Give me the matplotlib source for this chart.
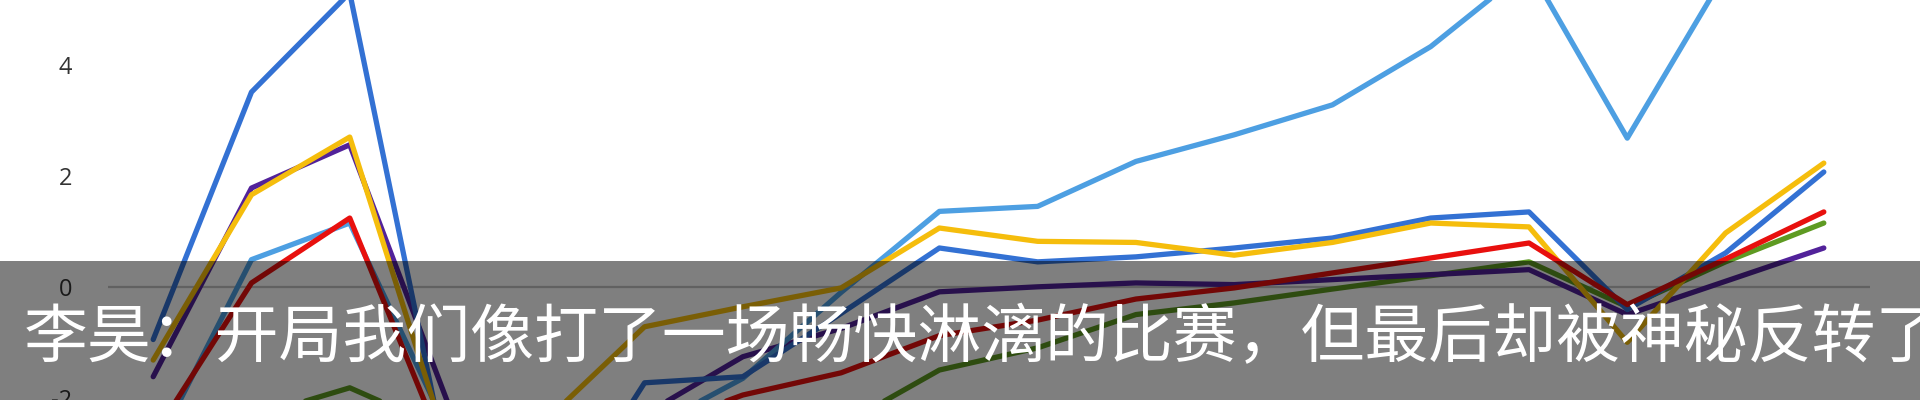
import matplotlib
matplotlib.use("Agg")
import matplotlib.pyplot as plt
from matplotlib.patches import Rectangle

# data (18 rounds)
rounds = list(range(18))
light_blue = [-3.0, 0.49, 1.15, -2.6, -3.0, -2.6, -1.65, -0.1, 1.36, 1.45, 2.26, 2.74, 3.28, 4.33, 5.75, 2.68, 5.66, 6.3]
dark_blue = [-0.95, 3.51, 5.3, -3.3, -4.5, -1.73, -1.62, -0.48, 0.70, 0.45, 0.54, 0.70, 0.88, 1.24, 1.35, -0.41, 0.61, 2.07]
yellow = [-1.32, 1.66, 2.7, -2.9, -2.4, -0.72, -0.36, -0.02, 1.06, 0.82, 0.8, 0.57, 0.8, 1.15, 1.08, -1.0, 0.97, 2.23]
red = [-2.7, 0.07, 1.24, -3.1, -3.2, -2.6, -1.95, -1.55, -0.88, -0.6, -0.22, -0.02, 0.25, 0.52, 0.79, -0.32, 0.5, 1.35]
purple = [-1.62, 1.78, 2.56, -2.1, -2.8, -2.3, -1.26, -0.75, -0.09, 0.0, 0.07, 0.04, 0.13, 0.22, 0.31, -0.5, 0.1, 0.70]
green = [-2.8, -2.35, -1.82, -2.6, -3.0, -3.1, -2.9, -2.5, -1.5, -1.1, -0.5, -0.29, -0.04, 0.2, 0.45, -0.36, 0.45, 1.15]

ytick_vals = [-2, 0, 2, 4]
ytick_labels = ["-2", "0", "2", "4"]
caption = "李昊：开局我们像打了一场畅快淋漓的比赛，但最后却被神秘反转了"

fig = plt.figure(figsize=(19.2, 4), dpi=100)
fig.patch.set_facecolor("white")
ax = fig.add_axes([108 / 1920, 0, 1762 / 1920, 1])

# linea del cero
ax.axhline(0, color="#c4c4c4", lw=1.6, zorder=0.5)

series = [
    (green, "#5e9a22"),
    (purple, "#52229a"),
    (light_blue, "#4d9fe2"),
    (dark_blue, "#3371d3"),
    (yellow, "#f5bd0c"),
    (red, "#e8100e"),
]
for vals, col in series:
    ax.plot(rounds, vals, color=col, lw=3.8, solid_capstyle="round",
            solid_joinstyle="round", zorder=2)

ax.set_xlim(-0.46, 17.47)
ax.set_ylim(-2.04, 5.17)
ax.set_xticks([])
ax.set_yticks(ytick_vals)
ax.set_yticklabels(ytick_labels, fontsize=17, color="#333333", family="Open Sans")
ax.tick_params(axis="y", length=0, pad=26)
for s in ax.spines.values():
    s.set_visible(False)
ax.set_facecolor("none")

# banda gris semitransparente con el subtitulo
fig.patches.append(Rectangle((0, 0), 1, 139 / 400, transform=fig.transFigure,
                             facecolor="black", alpha=0.5, zorder=5))
fig.text(24 / 1920, 43 / 400, caption, color="white", fontsize=46,
         family=["Noto Sans CJK SC", "DejaVu Sans"], ha="left", va="baseline",
         zorder=6)

fig.savefig("out.png", dpi=100)
